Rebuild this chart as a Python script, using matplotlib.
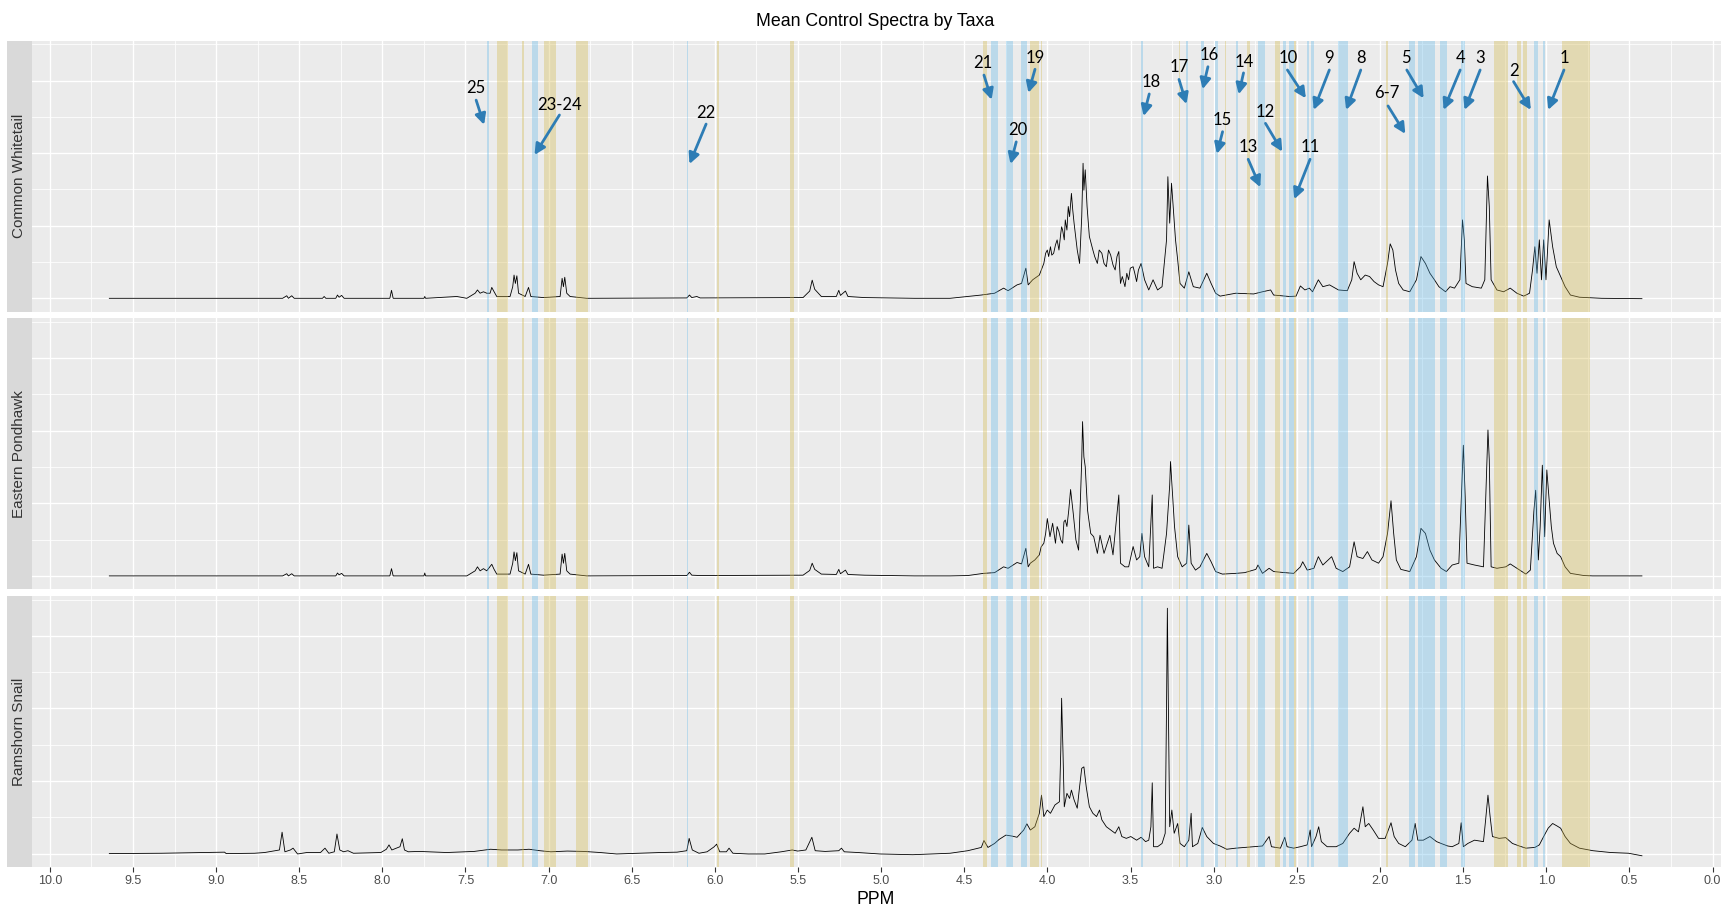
import numpy as np
import matplotlib.pyplot as plt
from matplotlib.ticker import MultipleLocator

plt.rcParams['font.family'] = ['Liberation Sans', 'DejaVu Sans']

# Mean spectra: (ppm, intensity)
whitetail_pts = [
    (9.642, 0.00), (8.60, 0.00), (8.575, 0.07), (8.565, 0.00), (8.545, 0.07), (8.53, 0.00),
    (8.36, 0.00), (8.35, 0.05), (8.34, 0.00), (8.28, 0.00), (8.27, 0.09), (8.26, 0.03),
    (8.245, 0.08), (8.23, 0.00), (7.955, 0.00), (7.945, 0.22), (7.935, 0.00), (7.75, 0.00),
    (7.745, 0.05), (7.74, 0.00), (7.552, 0.05), (7.492, 0.00), (7.442, 0.14), (7.428, 0.23),
    (7.412, 0.14), (7.392, 0.18), (7.372, 0.14), (7.352, 0.14), (7.342, 0.30), (7.328, 0.18),
    (7.312, 0.05), (7.232, 0.05), (7.216, 0.32), (7.208, 0.64), (7.200, 0.41), (7.191, 0.62),
    (7.181, 0.14), (7.141, 0.05), (7.121, 0.30), (7.107, 0.05), (7.031, 0.02), (6.931, 0.05),
    (6.919, 0.55), (6.911, 0.32), (6.903, 0.58), (6.891, 0.14), (6.871, 0.05), (6.771, 0.00),
    (6.169, 0.01), (6.153, 0.09), (6.139, 0.02), (6.109, 0.05), (6.089, 0.01), (5.47, 0.02),
    (5.43, 0.20), (5.415, 0.50), (5.40, 0.25), (5.36, 0.05), (5.27, 0.05), (5.255, 0.22),
    (5.245, 0.08), (5.215, 0.20), (5.20, 0.05), (5.10, 0.02), (4.80, 0.00),
    (4.586, 0.00), (4.398, 0.09), (4.318, 0.14), (4.264, 0.28), (4.237, 0.21), (4.183, 0.37),
    (4.156, 0.41), (4.130, 0.83), (4.116, 0.37), (4.089, 0.51), (4.049, 0.64), (4.022, 0.96),
    (4.011, 1.24), (4.001, 1.33), (3.993, 1.15), (3.982, 1.42), (3.974, 1.19), (3.963, 1.24),
    (3.952, 1.47), (3.942, 1.61), (3.931, 1.33), (3.920, 1.79), (3.915, 1.97), (3.909, 1.88),
    (3.899, 1.61), (3.893, 2.16), (3.883, 1.88), (3.875, 2.53), (3.867, 2.25), (3.856, 2.89),
    (3.848, 2.43), (3.840, 2.07), (3.821, 1.33), (3.807, 0.96), (3.794, 2.25),
    (3.786, 3.72), (3.781, 2.98), (3.773, 3.54), (3.762, 2.53), (3.748, 1.70), (3.727, 1.33),
    (3.716, 1.15), (3.700, 0.96), (3.689, 1.33), (3.673, 1.24), (3.660, 0.96), (3.646, 0.87),
    (3.633, 1.33), (3.620, 1.19), (3.606, 0.92), (3.593, 0.78), (3.582, 1.15), (3.571, 1.29),
    (3.561, 0.41), (3.550, 0.60), (3.534, 0.32), (3.523, 0.69), (3.512, 0.51), (3.502, 0.83),
    (3.485, 0.87), (3.475, 0.69), (3.464, 0.46), (3.453, 0.78), (3.437, 0.96),
    (3.416, 0.51), (3.391, 0.23), (3.365, 0.51), (3.338, 0.23), (3.311, 0.32), (3.284, 1.61),
    (3.276, 3.35), (3.265, 2.07), (3.254, 3.17), (3.244, 2.53), (3.230, 1.61), (3.217, 1.06),
    (3.203, 0.41), (3.177, 0.28), (3.150, 0.73), (3.123, 0.32), (3.083, 0.28), (3.042, 0.69),
    (3.016, 0.41), (2.989, 0.14), (2.962, 0.06), (2.868, 0.14), (2.760, 0.12), (2.707, 0.18),
    (2.658, 0.23), (2.640, 0.09), (2.546, 0.05), (2.505, 0.06), (2.479, 0.34), (2.452, 0.23),
    (2.425, 0.28), (2.406, 0.18), (2.371, 0.51), (2.344, 0.32), (2.304, 0.37), (2.250, 0.23),
    (2.197, 0.21), (2.170, 0.51), (2.156, 1.01), (2.138, 0.69), (2.116, 0.51), (2.089, 0.64),
    (2.063, 0.60), (2.036, 0.46), (2.009, 0.37), (1.982, 0.32), (1.955, 0.96), (1.939, 1.50),
    (1.923, 1.33), (1.907, 0.78), (1.888, 0.41), (1.861, 0.23), (1.821, 0.18), (1.781, 0.51),
    (1.754, 1.15), (1.727, 0.96), (1.700, 0.69), (1.673, 0.51), (1.646, 0.32), (1.606, 0.18),
    (1.579, 0.32), (1.552, 0.28), (1.520, 0.51), (1.504, 2.16), (1.493, 1.61), (1.483, 0.41),
    (1.445, 0.32), (1.391, 0.28), (1.370, 0.51), (1.354, 3.37), (1.343, 2.53), (1.332, 0.51),
    (1.297, 0.23), (1.257, 0.18), (1.217, 0.28), (1.177, 0.14), (1.136, 0.06), (1.101, 0.14),
    (1.083, 0.78), (1.069, 1.42), (1.056, 0.69), (1.042, 1.61), (1.029, 0.51), (1.016, 1.61),
    (1.002, 0.51), (0.983, 2.16), (0.962, 1.42), (0.940, 0.87), (0.914, 0.60), (0.887, 0.32),
    (0.855, 0.09), (0.801, 0.03), (0.667, 0.00), (0.425, -0.01),
]

pondhawk_pts = [
    (9.642, 0.00), (8.60, 0.00), (8.575, 0.06), (8.565, 0.00), (8.545, 0.06), (8.53, 0.00),
    (8.28, 0.00), (8.27, 0.08), (8.26, 0.03), (8.245, 0.07), (8.23, 0.00), (7.955, 0.00),
    (7.945, 0.20), (7.935, 0.00), (7.75, 0.00), (7.745, 0.08), (7.74, 0.00), (7.492, 0.00),
    (7.442, 0.14), (7.428, 0.25), (7.412, 0.14), (7.392, 0.20), (7.372, 0.14), (7.342, 0.32),
    (7.328, 0.18), (7.312, 0.05), (7.232, 0.05), (7.216, 0.35), (7.208, 0.66), (7.200, 0.42),
    (7.191, 0.64), (7.181, 0.14), (7.141, 0.05), (7.121, 0.32), (7.107, 0.05), (7.031, 0.02),
    (6.931, 0.05), (6.919, 0.60), (6.911, 0.35), (6.903, 0.62), (6.891, 0.14), (6.871, 0.05),
    (6.771, 0.00), (6.169, 0.01), (6.153, 0.10), (6.139, 0.02), (6.089, 0.01), (5.47, 0.02),
    (5.43, 0.15), (5.415, 0.35), (5.40, 0.18), (5.36, 0.05), (5.27, 0.04), (5.255, 0.18),
    (5.245, 0.06), (5.215, 0.16), (5.20, 0.04), (5.10, 0.02), (4.80, 0.00),
    (4.586, 0.00), (4.479, 0.01), (4.385, 0.07), (4.318, 0.09), (4.264, 0.25), (4.237, 0.21),
    (4.183, 0.37), (4.156, 0.33), (4.130, 0.76), (4.116, 0.25), (4.103, 0.35), (4.076, 0.44),
    (4.049, 0.58), (4.038, 0.80), (4.022, 0.90), (4.011, 1.17), (4.001, 1.58), (3.985, 1.08),
    (3.969, 1.45), (3.952, 0.90), (3.942, 1.36), (3.931, 1.22), (3.920, 0.99), (3.909, 0.90),
    (3.901, 1.49), (3.893, 1.54), (3.883, 1.36), (3.872, 1.81), (3.861, 2.38), (3.845, 1.72),
    (3.829, 0.99), (3.813, 0.71), (3.802, 2.09), (3.794, 3.19), (3.789, 4.25), (3.781, 3.28),
    (3.773, 3.01), (3.759, 1.81), (3.740, 1.17), (3.722, 1.08), (3.700, 0.62), (3.684, 1.12),
    (3.660, 0.62), (3.625, 1.12), (3.606, 0.58), (3.571, 2.23), (3.561, 0.35), (3.534, 0.25),
    (3.512, 0.25), (3.485, 0.81), (3.464, 0.44), (3.445, 0.53), (3.432, 1.17), (3.416, 0.53),
    (3.391, 0.25), (3.370, 2.23), (3.362, 0.21), (3.338, 0.25), (3.311, 0.21), (3.284, 1.17),
    (3.265, 2.50), (3.260, 3.15), (3.249, 2.32), (3.236, 1.36), (3.217, 0.53), (3.190, 0.25),
    (3.163, 0.35), (3.150, 1.40), (3.136, 0.35), (3.110, 0.16), (3.083, 0.25), (3.042, 0.62),
    (3.016, 0.39), (2.989, 0.12), (2.948, 0.05), (2.868, 0.07), (2.814, 0.09), (2.747, 0.18),
    (2.734, 0.30), (2.707, 0.07), (2.667, 0.21), (2.640, 0.12), (2.573, 0.09), (2.519, 0.07),
    (2.479, 0.25), (2.465, 0.39), (2.438, 0.16), (2.398, 0.21), (2.371, 0.53), (2.344, 0.30),
    (2.291, 0.53), (2.264, 0.21), (2.224, 0.12), (2.183, 0.25), (2.156, 0.94), (2.138, 0.53),
    (2.103, 0.48), (2.076, 0.67), (2.049, 0.44), (2.009, 0.35), (1.982, 0.53), (1.955, 1.17),
    (1.934, 2.07), (1.918, 1.17), (1.902, 0.44), (1.875, 0.18), (1.821, 0.12), (1.781, 0.53),
    (1.754, 1.31), (1.727, 1.17), (1.700, 0.71), (1.673, 0.44), (1.633, 0.21), (1.601, 0.12),
    (1.566, 0.30), (1.526, 0.35), (1.512, 2.04), (1.499, 3.60), (1.488, 2.18), (1.477, 0.35),
    (1.432, 0.30), (1.378, 0.25), (1.365, 2.09), (1.351, 4.02), (1.343, 3.19), (1.332, 0.25),
    (1.297, 0.21), (1.244, 0.25), (1.217, 0.33), (1.177, 0.21), (1.123, 0.05), (1.096, 0.16),
    (1.075, 1.77), (1.064, 2.36), (1.048, 0.44), (1.037, 1.36), (1.024, 3.05), (1.010, 1.08),
    (0.997, 2.92), (0.983, 2.09), (0.970, 1.36), (0.957, 0.90), (0.935, 0.62), (0.914, 0.53),
    (0.887, 0.25), (0.855, 0.07), (0.774, 0.01), (0.721, 0.00), (0.425, 0.00),
]

snail_pts = [
    (9.642, 0.00), (9.328, 0.01), (8.949, 0.04), (8.939, 0.00), (8.768, 0.01), (8.708, 0.03),
    (8.619, 0.10), (8.603, 0.59), (8.586, 0.05), (8.553, 0.10), (8.537, 0.15), (8.510, -0.01),
    (8.454, 0.03), (8.372, 0.03), (8.345, 0.15), (8.322, 0.01), (8.289, 0.05), (8.273, 0.54),
    (8.256, 0.10), (8.233, 0.05), (8.207, 0.08), (8.174, 0.01), (8.009, 0.03), (7.976, 0.12),
    (7.960, 0.24), (7.943, 0.10), (7.894, 0.19), (7.880, 0.41), (7.867, 0.10), (7.844, 0.05),
    (7.778, 0.06), (7.613, 0.03), (7.448, 0.06), (7.349, 0.12), (7.283, 0.10), (7.185, 0.10),
    (7.118, 0.12), (7.053, 0.08), (6.987, 0.05), (6.888, 0.07), (6.789, 0.06), (6.690, 0.03),
    (6.591, -0.01), (6.459, 0.01), (6.327, 0.03), (6.228, 0.04), (6.169, 0.08), (6.155, 0.42),
    (6.136, 0.10), (6.096, 0.01), (6.047, 0.05), (6.004, 0.19), (5.990, 0.26), (5.971, 0.05),
    (5.931, 0.05), (5.915, 0.15), (5.892, 0.01), (5.799, -0.01), (5.700, -0.01), (5.601, 0.05),
    (5.535, 0.10), (5.502, 0.07), (5.453, 0.10), (5.417, 0.45), (5.397, 0.08), (5.337, 0.06),
    (5.255, 0.08), (5.239, 0.15), (5.222, 0.05), (5.140, 0.03), (5.008, -0.01), (4.810, -0.03),
    (4.586, 0.01), (4.479, 0.08), (4.398, 0.17), (4.382, 0.36), (4.358, 0.17), (4.318, 0.28),
    (4.291, 0.39), (4.250, 0.51), (4.210, 0.48), (4.183, 0.45), (4.143, 0.65), (4.124, 0.82),
    (4.103, 0.65), (4.076, 0.74), (4.049, 1.11), (4.036, 1.61), (4.022, 1.02), (4.001, 1.20),
    (3.982, 1.11), (3.955, 1.34), (3.928, 1.43), (3.920, 2.85), (3.915, 4.28), (3.907, 2.85),
    (3.899, 1.29), (3.883, 1.66), (3.867, 1.52), (3.856, 1.75), (3.840, 1.48), (3.821, 1.25),
    (3.807, 1.84), (3.794, 2.35), (3.781, 2.39), (3.767, 1.84), (3.748, 1.29), (3.727, 1.11),
    (3.705, 1.02), (3.687, 1.20), (3.673, 0.93), (3.646, 0.74), (3.620, 0.65), (3.593, 0.56),
    (3.571, 0.74), (3.553, 0.47), (3.526, 0.42), (3.499, 0.47), (3.464, 0.37), (3.437, 0.45),
    (3.410, 0.33), (3.391, 0.37), (3.378, 0.74), (3.370, 1.95), (3.362, 0.19), (3.338, 0.19),
    (3.311, 0.28), (3.292, 0.56), (3.284, 4.05), (3.279, 6.76), (3.273, 4.05), (3.265, 0.74),
    (3.252, 1.20), (3.238, 0.56), (3.217, 0.83), (3.203, 0.28), (3.177, 0.19), (3.150, 0.37),
    (3.136, 1.11), (3.128, 0.19), (3.096, 0.28), (3.069, 0.72), (3.042, 0.47), (3.002, 0.28),
    (2.962, 0.21), (2.922, 0.12), (2.868, 0.15), (2.814, 0.17), (2.761, 0.19), (2.707, 0.21),
    (2.667, 0.47), (2.653, 0.19), (2.599, 0.15), (2.573, 0.45), (2.559, 0.19), (2.519, 0.15),
    (2.479, 0.19), (2.438, 0.24), (2.420, 0.65), (2.412, 0.19), (2.385, 0.47), (2.369, 0.74),
    (2.353, 0.33), (2.318, 0.19), (2.264, 0.19), (2.224, 0.28), (2.183, 0.56), (2.156, 0.70),
    (2.130, 0.60), (2.103, 1.29), (2.089, 0.74), (2.068, 0.83), (2.041, 0.65), (2.009, 0.42),
    (1.969, 0.42), (1.934, 0.85), (1.915, 0.47), (1.888, 0.28), (1.848, 0.19), (1.808, 0.37),
    (1.789, 0.83), (1.773, 0.37), (1.740, 0.37), (1.700, 0.47), (1.660, 0.33), (1.633, 0.28),
    (1.593, 0.21), (1.566, 0.19), (1.526, 0.28), (1.512, 0.85), (1.499, 0.19), (1.472, 0.28),
    (1.432, 0.37), (1.378, 0.33), (1.365, 0.93), (1.351, 1.61), (1.338, 1.02), (1.324, 0.47),
    (1.284, 0.42), (1.244, 0.44), (1.204, 0.28), (1.163, 0.21), (1.123, 0.15), (1.069, 0.17),
    (1.042, 0.24), (1.016, 0.47), (0.989, 0.70), (0.962, 0.83), (0.935, 0.76), (0.914, 0.70),
    (0.887, 0.47), (0.855, 0.28), (0.801, 0.15), (0.720, 0.08), (0.613, 0.03), (0.505, 0.01),
    (0.425, -0.06),
]

taxa = ['Common Whitetail', 'Eastern Pondhawk', 'Ramshorn Snail']
spectra = [whitetail_pts, pondhawk_pts, snail_pts]

# Highlighted bins (ppm high, ppm low)
yellow_bands = [
    (7.309, 7.244), (7.160, 7.148), (7.028, 6.954), (6.836, 6.763), (5.988, 5.975),
    (5.546, 5.522), (4.390, 4.363), (4.107, 4.088), (4.085, 4.050), (4.038, 4.031),
    (3.211, 3.202), (2.935, 2.928), (2.799, 2.783), (2.631, 2.600), (2.515, 2.508),
    (1.962, 1.951), (1.313, 1.230), (1.176, 1.154), (1.139, 1.116), (0.907, 0.841),
    (0.841, 0.737),
]
blue_bands = [
    (7.373, 7.356), (7.100, 7.064), (6.166, 6.160), (4.339, 4.298), (4.249, 4.207),
    (4.159, 4.121), (3.437, 3.427), (3.166, 3.154), (3.078, 3.058), (2.995, 2.973),
    (2.864, 2.854), (2.733, 2.690), (2.583, 2.566), (2.550, 2.516), (2.440, 2.426),
    (2.414, 2.400), (2.253, 2.193), (1.824, 1.789), (1.772, 1.672), (1.642, 1.599),
    (1.513, 1.492), (1.073, 1.052), (1.021, 1.009),
]

# Peak labels: text, text position, arrow tail, arrow head (ppm, intensity)
labels = ['25', '23-24', '22', '21', '20', '19', '18', '17', '16', '15', '14', '13', '12',
          '11', '10', '9', '8', '6-7', '5', '4', '3', '2', '1']
label_xy = [(7.436, 5.79), (6.935, 5.33), (6.053, 5.10), (4.389, 6.49), (4.181, 4.64),
            (4.075, 6.61), (3.375, 5.95), (3.209, 6.38), (3.029, 6.70), (2.947, 4.91),
            (2.815, 6.52), (2.793, 4.16), (2.689, 5.14), (2.421, 4.16), (2.550, 6.61),
            (2.305, 6.61), (2.116, 6.61), (1.959, 5.65), (1.845, 6.61), (1.518, 6.61),
            (1.398, 6.61), (1.197, 6.27), (0.894, 6.61)]
arrow_from = [(7.436, 5.46), (6.935, 5.05), (6.053, 4.80), (4.382, 6.15), (4.188, 4.31),
              (4.075, 6.31), (3.388, 5.63), (3.209, 6.03), (3.035, 6.38), (2.947, 4.59),
              (2.821, 6.21), (2.793, 3.83), (2.689, 4.82), (2.421, 3.83), (2.557, 6.29),
              (2.305, 6.29), (2.116, 6.29), (1.952, 5.30), (1.839, 6.29), (1.518, 6.29),
              (1.398, 6.29), (1.197, 5.97), (0.894, 6.29)]
arrow_to = [(7.388, 4.78), (7.085, 3.95), (6.153, 3.70), (4.336, 5.47), (4.222, 3.70),
            (4.115, 5.66), (3.422, 5.02), (3.164, 5.35), (3.067, 5.76), (2.981, 3.98),
            (2.850, 5.62), (2.720, 3.06), (2.588, 4.04), (2.516, 2.73), (2.446, 5.51),
            (2.399, 5.19), (2.204, 5.19), (1.848, 4.53), (1.738, 5.51), (1.618, 5.19),
            (1.492, 5.19), (1.093, 5.19), (0.989, 5.19)]

W, H = 1721, 907
fig = plt.figure(figsize=(W / 100, H / 100), dpi=100)


def rect(left, top, right, bottom):
    return [left / W, 1 - bottom / H, (right - left) / W, (bottom - top) / H]


panel_tops = [40.7, 318.3, 596.0]
panel_h = 271.0
bg = '#EBEBEB'
axes = []
for i, (name, pts) in enumerate(zip(taxa, spectra)):
    top = panel_tops[i]
    ax = fig.add_axes(rect(32, top, 1721, top + panel_h))
    ax.set_facecolor(bg)
    for s in ax.spines.values():
        s.set_visible(False)
    ax.set_xlim(10.107, -0.0505)
    ax.set_ylim(-0.369, 7.097)
    ax.xaxis.set_major_locator(MultipleLocator(0.5))
    ax.xaxis.set_minor_locator(MultipleLocator(0.25))
    ax.yaxis.set_major_locator(MultipleLocator(2))
    ax.yaxis.set_minor_locator(MultipleLocator(1))
    ax.grid(which='major', color='white', lw=0.95, zorder=0)
    ax.grid(which='minor', color='white', lw=0.55, zorder=0)
    ax.set_axisbelow(True)
    ax.tick_params(axis='y', which='both', left=False, labelleft=False)
    if i < 2:
        ax.tick_params(axis='x', which='both', bottom=False, labelbottom=False)
    else:
        ax.tick_params(axis='x', which='major', length=3.5, width=0.8, color='#333333',
                       labelsize=9, labelcolor='#4D4D4D', pad=2.5)
        ax.tick_params(axis='x', which='minor', length=0)
        ax.xaxis.set_major_formatter(plt.FuncFormatter(lambda v, p: f'{v:.1f}'))

    arr = np.array(pts)
    arr = arr[np.argsort(-arr[:, 0], kind='stable')]
    ax.plot(arr[:, 0], arr[:, 1], color='black', lw=0.6, zorder=2)

    for hi, lo in yellow_bands:
        ax.axvspan(lo, hi, color='#D4B84A', alpha=0.35, lw=0, zorder=3)
    for hi, lo in blue_bands:
        ax.axvspan(lo, hi, color='#56B4E9', alpha=0.32, lw=0, zorder=3)

    # facet strip on the left
    sax = fig.add_axes(rect(7, top, 32, top + panel_h))
    sax.set_facecolor('#D9D9D9')
    sax.set_xticks([])
    sax.set_yticks([])
    for s in sax.spines.values():
        s.set_visible(False)
    sax.text(0.5, 0.5, name, rotation=90, ha='center', va='center', fontsize=11,
             color='#333333', transform=sax.transAxes)
    axes.append(ax)

top_ax = axes[0]
for lab, txy, a0, a1 in zip(labels, label_xy, arrow_from, arrow_to):
    top_ax.text(txy[0], txy[1], lab, ha='center', va='center', fontsize=12,
                family=['Lato', 'DejaVu Sans'], color='black', zorder=6)
    top_ax.annotate('', xy=a1, xytext=a0,
                    arrowprops=dict(arrowstyle='-|>', color='#2E7DB5', lw=2.0,
                                    mutation_scale=16, shrinkA=0, shrinkB=0),
                    zorder=6)

fig.text(875.5 / W, 1 - 21 / H, 'Mean Control Spectra by Taxa', ha='center', va='center',
         fontsize=12.8, color='black')
fig.text(875.5 / W, 1 - 899 / H, 'PPM', ha='center', va='center', fontsize=12.7,
         color='black')

fig.savefig('out.png', dpi=100, facecolor='white')
